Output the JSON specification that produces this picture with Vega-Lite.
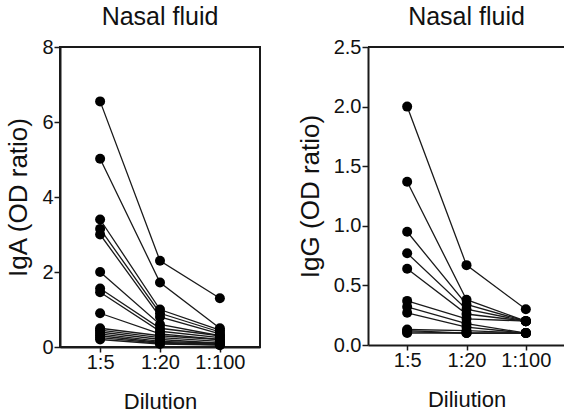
{
  "$schema": "https://vega.github.io/schema/vega-lite/v6.json",
  "padding": {"left": 4, "top": 4, "right": 0, "bottom": 0},
  "background": "white",
  "spacing": 36,
  "config": {
    "font": "Liberation Sans",
    "view": {"stroke": "#1a1a1a", "strokeWidth": 2},
    "axis": {
      "domainColor": "#1a1a1a",
      "domainWidth": 2,
      "tickColor": "#1a1a1a",
      "tickWidth": 1.5,
      "tickSize": 6,
      "labelColor": "#111",
      "labelFontSize": 20,
      "titleColor": "#111",
      "titleFontWeight": "normal",
      "grid": false,
      "labelPadding": 1
    },
    "title": {"fontSize": 25, "fontWeight": "normal", "color": "#111", "offset": 7}
  },
  "datasets": {
    "iga": [
      {"subject": 1, "dilution": "1:5", "value": 6.55}, {"subject": 1, "dilution": "1:20", "value": 2.3}, {"subject": 1, "dilution": "1:100", "value": 1.3},
      {"subject": 2, "dilution": "1:5", "value": 5.02}, {"subject": 2, "dilution": "1:20", "value": 1.72}, {"subject": 2, "dilution": "1:100", "value": 0.5},
      {"subject": 3, "dilution": "1:5", "value": 3.4}, {"subject": 3, "dilution": "1:20", "value": 1.0}, {"subject": 3, "dilution": "1:100", "value": 0.45},
      {"subject": 4, "dilution": "1:5", "value": 3.15}, {"subject": 4, "dilution": "1:20", "value": 0.9}, {"subject": 4, "dilution": "1:100", "value": 0.4},
      {"subject": 5, "dilution": "1:5", "value": 3.0}, {"subject": 5, "dilution": "1:20", "value": 0.8}, {"subject": 5, "dilution": "1:100", "value": 0.35},
      {"subject": 6, "dilution": "1:5", "value": 2.0}, {"subject": 6, "dilution": "1:20", "value": 0.6}, {"subject": 6, "dilution": "1:100", "value": 0.3},
      {"subject": 7, "dilution": "1:5", "value": 1.56}, {"subject": 7, "dilution": "1:20", "value": 0.5}, {"subject": 7, "dilution": "1:100", "value": 0.3},
      {"subject": 8, "dilution": "1:5", "value": 1.46}, {"subject": 8, "dilution": "1:20", "value": 0.42}, {"subject": 8, "dilution": "1:100", "value": 0.25},
      {"subject": 9, "dilution": "1:5", "value": 0.9}, {"subject": 9, "dilution": "1:20", "value": 0.35}, {"subject": 9, "dilution": "1:100", "value": 0.2},
      {"subject": 10, "dilution": "1:5", "value": 0.5}, {"subject": 10, "dilution": "1:20", "value": 0.3}, {"subject": 10, "dilution": "1:100", "value": 0.2},
      {"subject": 11, "dilution": "1:5", "value": 0.45}, {"subject": 11, "dilution": "1:20", "value": 0.25}, {"subject": 11, "dilution": "1:100", "value": 0.15},
      {"subject": 12, "dilution": "1:5", "value": 0.4}, {"subject": 12, "dilution": "1:20", "value": 0.2}, {"subject": 12, "dilution": "1:100", "value": 0.1},
      {"subject": 13, "dilution": "1:5", "value": 0.35}, {"subject": 13, "dilution": "1:20", "value": 0.15}, {"subject": 13, "dilution": "1:100", "value": 0.1},
      {"subject": 14, "dilution": "1:5", "value": 0.3}, {"subject": 14, "dilution": "1:20", "value": 0.12}, {"subject": 14, "dilution": "1:100", "value": 0.08},
      {"subject": 15, "dilution": "1:5", "value": 0.25}, {"subject": 15, "dilution": "1:20", "value": 0.1}, {"subject": 15, "dilution": "1:100", "value": 0.06},
      {"subject": 16, "dilution": "1:5", "value": 0.2}, {"subject": 16, "dilution": "1:20", "value": 0.08}, {"subject": 16, "dilution": "1:100", "value": 0.05}
    ],
    "igg": [
      {"subject": 1, "dilution": "1:5", "value": 2.0}, {"subject": 1, "dilution": "1:20", "value": 0.67}, {"subject": 1, "dilution": "1:100", "value": 0.3},
      {"subject": 2, "dilution": "1:5", "value": 1.37}, {"subject": 2, "dilution": "1:20", "value": 0.38}, {"subject": 2, "dilution": "1:100", "value": 0.2},
      {"subject": 3, "dilution": "1:5", "value": 0.95}, {"subject": 3, "dilution": "1:20", "value": 0.34}, {"subject": 3, "dilution": "1:100", "value": 0.2},
      {"subject": 4, "dilution": "1:5", "value": 0.77}, {"subject": 4, "dilution": "1:20", "value": 0.3}, {"subject": 4, "dilution": "1:100", "value": 0.2},
      {"subject": 5, "dilution": "1:5", "value": 0.64}, {"subject": 5, "dilution": "1:20", "value": 0.26}, {"subject": 5, "dilution": "1:100", "value": 0.2},
      {"subject": 6, "dilution": "1:5", "value": 0.37}, {"subject": 6, "dilution": "1:20", "value": 0.22}, {"subject": 6, "dilution": "1:100", "value": 0.2},
      {"subject": 7, "dilution": "1:5", "value": 0.32}, {"subject": 7, "dilution": "1:20", "value": 0.18}, {"subject": 7, "dilution": "1:100", "value": 0.1},
      {"subject": 8, "dilution": "1:5", "value": 0.27}, {"subject": 8, "dilution": "1:20", "value": 0.15}, {"subject": 8, "dilution": "1:100", "value": 0.1},
      {"subject": 9, "dilution": "1:5", "value": 0.13}, {"subject": 9, "dilution": "1:20", "value": 0.12}, {"subject": 9, "dilution": "1:100", "value": 0.1},
      {"subject": 10, "dilution": "1:5", "value": 0.12}, {"subject": 10, "dilution": "1:20", "value": 0.1}, {"subject": 10, "dilution": "1:100", "value": 0.1},
      {"subject": 11, "dilution": "1:5", "value": 0.11}, {"subject": 11, "dilution": "1:20", "value": 0.1}, {"subject": 11, "dilution": "1:100", "value": 0.1},
      {"subject": 12, "dilution": "1:5", "value": 0.1}, {"subject": 12, "dilution": "1:20", "value": 0.1}, {"subject": 12, "dilution": "1:100", "value": 0.1}
    ]
  },
  "hconcat": [
    {
      "title": {"text": "Nasal fluid"},
      "width": 200,
      "height": 300,
      "data": {"name": "iga"},
      "encoding": {
        "x": {"field": "dilution", "type": "ordinal", "sort": ["1:5", "1:20", "1:100"], "scale": {"type": "point", "padding": 0.67},
              "axis": {"title": "Dilution", "titleFontSize": 22, "labelAngle": 0, "tickSize": 5, "labelPadding": 0, "titlePadding": 19}},
        "y": {"field": "value", "type": "quantitative", "scale": {"domain": [0, 8], "nice": false},
              "axis": {"title": "IgA (OD ratio)", "titleFontSize": 26, "values": [0, 2, 4, 6, 8], "titlePadding": 10}}
      },
      "layer": [
        {"mark": {"type": "line", "color": "#1a1a1a", "strokeWidth": 1.3}, "encoding": {"detail": {"field": "subject"}}},
        {"mark": {"type": "circle", "color": "#000", "opacity": 1, "size": 100}}
      ]
    },
    {
      "title": {"text": "Nasal fluid"},
      "width": 197,
      "height": 298,
      "view": {"stroke": null},
      "data": {"name": "igg"},
      "encoding": {
        "x": {"field": "dilution", "type": "ordinal", "sort": ["1:5", "1:20", "1:100"], "scale": {"type": "point", "padding": 0.66},
              "axis": {"title": "Diliution", "titleFontSize": 22, "labelAngle": 0, "tickSize": 5, "labelPadding": 0, "titlePadding": 19}},
        "y": {"field": "value", "type": "quantitative", "scale": {"domain": [0, 2.5], "nice": false},
              "axis": {"title": "IgG (OD ratio)", "titleFontSize": 26, "values": [0, 0.5, 1, 1.5, 2, 2.5], "format": ".1f", "titlePadding": 10}}
      },
      "layer": [
        {"mark": {"type": "rule", "color": "#1a1a1a", "strokeWidth": 2}, "encoding": {"y": {"datum": 2.5}, "x": {"value": 0}, "x2": {"value": 197}}},
        {"mark": {"type": "line", "color": "#1a1a1a", "strokeWidth": 1.3}, "encoding": {"detail": {"field": "subject"}}},
        {"mark": {"type": "circle", "color": "#000", "opacity": 1, "size": 100}}
      ]
    }
  ]
}
